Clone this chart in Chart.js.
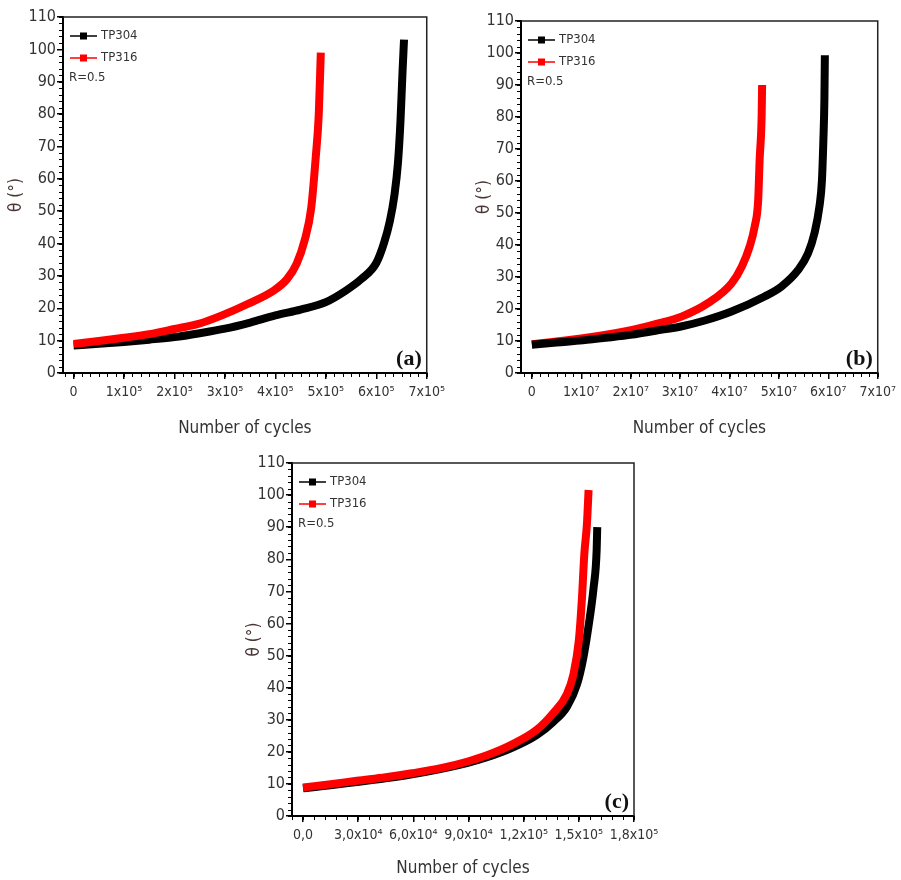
<!DOCTYPE html>
<html><head><meta charset="utf-8">
<script src="https://cdn.jsdelivr.net/npm/chart.js@4.4.0/dist/chart.umd.min.js"></script>
<style>
html,body{margin:0;padding:0;background:#fff;}
body{width:901px;height:880px;position:relative;overflow:hidden;}
canvas{position:absolute;display:block;}
</style></head><body>
<canvas id="ca" width="450" height="440" style="left:0;top:0"></canvas>
<canvas id="cb" width="451" height="440" style="left:450px;top:0"></canvas>
<canvas id="cc" width="460" height="440" style="left:220px;top:440px"></canvas>
<script>
// ---------- DATA ----------
const seriesNames = ['TP304', 'TP316'];
const noteText = 'R=0.5';
const yTicks = [0,10,20,30,40,50,60,70,80,90,100,110];
const yLabels = ['0','10','20','30','40','50','60','70','80','90','100','110'];

// (a)
const aTicks = [0,1e5,2e5,3e5,4e5,5e5,6e5,7e5];
const aLabels = ['0','1x10\u2075','2x10\u2075','3x10\u2075','4x10\u2075','5x10\u2075','6x10\u2075','7x10\u2075'];
const a304x = [0,0.5e5,1e5,1.5e5,2e5,2.5e5,3e5,3.5e5,4e5,4.5e5,5e5,5.4e5,5.7e5,6e5,6.15e5,6.27e5,6.36e5,6.43e5,6.48e5,6.52e5,6.55e5];
const a304y = [8.5,9.0,9.6,10.3,11.1,12.3,13.7,15.6,17.8,19.6,21.9,25.5,29,34,40,47,55,65,78,93,103];
const a316x = [0,0.5e5,1e5,1.5e5,2e5,2.5e5,2.94e5,3.46e5,3.97e5,4.23e5,4.42e5,4.58e5,4.71e5,4.8e5,4.86e5,4.9e5];
const a316y = [9,9.9,10.9,12.0,13.6,15.3,17.8,21.4,25.5,29,33.7,41,51,66.7,80,99];

// (b)
const bTicks = [0,1e7,2e7,3e7,4e7,5e7,6e7,7e7];
const bLabels = ['0','1x10\u2077','2x10\u2077','3x10\u2077','4x10\u2077','5x10\u2077','6x10\u2077','7x10\u2077'];
const b304x = [0,0.5e7,1.03e7,1.5e7,2.03e7,2.5e7,3.04e7,3.5e7,4.04e7,4.71e7,5.05e7,5.39e7,5.59e7,5.72e7,5.82e7,5.87e7,5.9e7,5.92e7,5.93e7];
const b304y = [8.8,9.5,10.2,11.0,12.0,13.2,14.6,16.4,19.2,23.9,27,32.2,37.4,43.7,52,60,72.8,85,99.3];
const b316x = [0,1e7,2.03e7,2.5e7,3.04e7,3.57e7,4.04e7,4.25e7,4.41e7,4.51e7,4.58e7,4.61e7,4.65e7,4.66e7];
const b316y = [9,10.8,13.5,15.3,17.7,21.9,28,33.3,39.6,45.8,54,66.7,80,90];

// (c)
const cTicks = [0,3e4,6e4,9e4,1.2e5,1.5e5,1.8e5];
const cLabels = ['0,0','3,0x10\u2074','6,0x10\u2074','9,0x10\u2074','1,2x10\u2075','1,5x10\u2075','1,8x10\u2075'];
const c304x = [0,2.93e4,5.92e4,8.91e4,1.0e5,1.127e5,1.27e5,1.36e5,1.435e5,1.49e5,1.525e5,1.56e5,1.58e5,1.597e5,1.6e5];
const c304y = [8.6,10.6,13,16.5,18.3,21,25.2,29.3,34,41,49.5,62,71,83,90];
const c316x = [0,1.5e4,2.93e4,4.5e4,5.92e4,7.5e4,8.91e4,1.0e5,1.127e5,1.27e5,1.36e5,1.435e5,1.47e5,1.5e5,1.516e5,1.53e5,1.544e5,1.553e5];
const c316y = [8.9,9.9,11,12.1,13.3,14.9,16.9,18.9,22,26.8,32,38,44,54.7,67,81.7,91,101.6];

// ---------- STYLE ----------
function hasFont(name) {
  const c = document.createElement('canvas').getContext('2d');
  const s = 'Number of cycles 0123456789 TP304';
  c.font = '20px monospace'; const w1 = c.measureText(s).width;
  c.font = '20px serif'; const w2 = c.measureText(s).width;
  c.font = "20px '" + name + "', monospace"; const v1 = c.measureText(s).width;
  c.font = "20px '" + name + "', serif"; const v2 = c.measureText(s).width;
  return v1 !== w1 || v2 !== w2;
}
const narrowCands = ['Liberation Sans Narrow', 'Arial Narrow', 'DejaVu Sans Condensed', 'Roboto Condensed', 'Open Sans Condensed'];
const narrowFound = narrowCands.find(hasFont);
const NARROW = narrowFound ? "'" + narrowFound + "', 'Liberation Sans', sans-serif" : "'Liberation Sans', Arial, sans-serif";
const K = narrowFound ? (narrowFound === 'DejaVu Sans Condensed' ? 0.92 : 1) : 0.82;
const SERIF = "'Liberation Serif','DejaVu Serif',serif";
const TXT = '#333';
const BLACK = '#000000';
const RED = '#ff0000';

const pts = (xs, ys) => xs.map((v, i) => ({x: v, y: ys[i]}));

const deco = {
  id: 'deco',
  afterDraw(chart, args, o) {
    const {ctx, chartArea: a, scales: {x, y}} = chart;
    ctx.save();
    // frame top/right
    ctx.strokeStyle = '#222'; ctx.lineWidth = 1.5;
    ctx.beginPath();
    ctx.moveTo(a.left, a.top); ctx.lineTo(a.right, a.top); ctx.lineTo(a.right, a.bottom);
    ctx.stroke();
    // minor ticks
    ctx.strokeStyle = '#000'; ctx.lineWidth = 1;
    ctx.beginPath();
    for (let v = Math.ceil(x.min / o.xMinor) * o.xMinor; v <= x.max + 1e-9; v += o.xMinor) {
      const px = Math.round(x.getPixelForValue(v)) + 0.5;
      ctx.moveTo(px, a.bottom); ctx.lineTo(px, a.bottom + 4);
    }
    for (let v = Math.ceil(y.min / o.yMinor) * o.yMinor; v <= y.max + 1e-9; v += o.yMinor) {
      const py = Math.round(y.getPixelForValue(v)) + 0.5;
      ctx.moveTo(a.left, py); ctx.lineTo(a.left - 4, py);
    }
    ctx.stroke();
    // legend
    const ds = chart.data.datasets;
    const lx = a.left + 7, tx = a.left + 38;
    ds.forEach((d, i) => {
      const ly = a.top + 19 + i * 22;
      ctx.strokeStyle = d.borderColor; ctx.lineWidth = 1.5;
      ctx.beginPath(); ctx.moveTo(lx, ly); ctx.lineTo(lx + 27, ly); ctx.stroke();
      ctx.fillStyle = d.borderColor;
      ctx.fillRect(lx + 10, ly - 3.5, 7, 7);
      ctx.fillStyle = TXT;
      ctx.font = Math.round(14 * K) + 'px ' + NARROW;
      ctx.textBaseline = 'middle'; ctx.textAlign = 'left';
      ctx.fillText(d.label, tx, ly);
    });
    ctx.fillStyle = TXT;
    ctx.font = Math.round(14 * K) + 'px ' + NARROW;
    ctx.textAlign = 'left'; ctx.textBaseline = 'middle';
    ctx.fillText(noteText, a.left + 6, a.top + 61);
    // panel label
    ctx.fillStyle = '#111';
    ctx.font = 'bold 22px ' + SERIF;
    ctx.textAlign = 'right'; ctx.textBaseline = 'alphabetic';
    ctx.fillText(o.panel, a.right - 5, a.bottom - 8);
    ctx.restore();
  }
};

function makeChart(id, cfg) {
  const datasets = [
    {label: seriesNames[0], data: pts(cfg.x304, cfg.y304), borderColor: BLACK, backgroundColor: BLACK, order: cfg.order304},
    {label: seriesNames[1], data: pts(cfg.x316, cfg.y316), borderColor: RED, backgroundColor: RED, order: cfg.order316}
  ].map(d => Object.assign(d, {
    borderWidth: 8, pointRadius: 0, fill: false,
    cubicInterpolationMode: 'monotone', borderCapStyle: 'butt', borderJoinStyle: 'miter'
  }));
  return new Chart(document.getElementById(id), {
    type: 'line',
    data: {datasets},
    options: {
      responsive: false, animation: false, devicePixelRatio: 1,
      layout: {padding: {left: 0, right: cfg.padR, top: cfg.padT, bottom: 0}},
      plugins: {legend: {display: false}, tooltip: {enabled: false}, deco: {xMinor: cfg.xMinor, yMinor: 2, panel: cfg.panel}},
      scales: {
        x: {
          type: 'linear', min: cfg.xMin, max: cfg.xMax,
          afterBuildTicks: s => { s.ticks = cfg.xTicks.map(v => ({value: v})); },
          afterFit: s => { s.height = cfg.xH; },
          ticks: {autoSkip: false, maxRotation: 0, padding: 5, color: TXT,
                  font: {family: NARROW, size: Math.round(15.5 * K)},
                  callback: (v, i) => cfg.xLabels[i]},
          grid: {drawOnChartArea: false, drawTicks: true, tickLength: 6, color: '#000', lineWidth: 1.5},
          border: {display: true, color: '#000', width: 2},
          title: {display: true, text: 'Number of cycles', color: TXT,
                  font: {family: NARROW, size: Math.round(18 * K)}, padding: {top: 0, bottom: 1}}
        },
        y: {
          type: 'linear', min: 0, max: 110,
          afterBuildTicks: s => { s.ticks = yTicks.map(v => ({value: v})); },
          afterFit: s => { s.width = cfg.yW; },
          ticks: {autoSkip: false, padding: 1, color: TXT,
                  font: {family: NARROW, size: Math.round(17.5 * K)},
                  callback: (v, i) => yLabels[i]},
          grid: {drawOnChartArea: false, drawTicks: true, tickLength: 6, color: '#000', lineWidth: 1.5},
          border: {display: true, color: '#000', width: 2},
          title: {display: true, text: '\u03b8 (\u00b0)', color: '#4a3434',
                  font: {family: NARROW, size: Math.round(18 * K)}, padding: {top: cfg.yTitlePad, bottom: 0}}
        }
      }
    },
    plugins: [deco]
  });
}

makeChart('ca', {x304: a304x, y304: a304y, x316: a316x, y316: a316y, order304: 1, order316: 0,
  xTicks: aTicks, xLabels: aLabels, xMin: -2.1e4, xMax: 7e5, xMinor: 1e5 / 6,
  padR: 13, padT: 17, xH: 67, yW: 63, yTitlePad: 6, panel: '(a)'});
makeChart('cb', {x304: b304x, y304: b304y, x316: b316x, y316: b316y, order304: 0, order316: 1,
  xTicks: bTicks, xLabels: bLabels, xMin: -2.2e6, xMax: 7e7, xMinor: 1e7 / 6,
  padR: 21, padT: 21, xH: 67, yW: 71, yTitlePad: 24, panel: '(b)'});
makeChart('cc', {x304: c304x, y304: c304y, x316: c316x, y316: c316y, order304: 1, order316: 0,
  xTicks: cTicks, xLabels: cLabels, xMin: -6e3, xMax: 1.8e5, xMinor: 6e3,
  padR: 46, padT: 23, xH: 64, yW: 72, yTitlePad: 24, panel: '(c)'});
</script>
</body></html>
